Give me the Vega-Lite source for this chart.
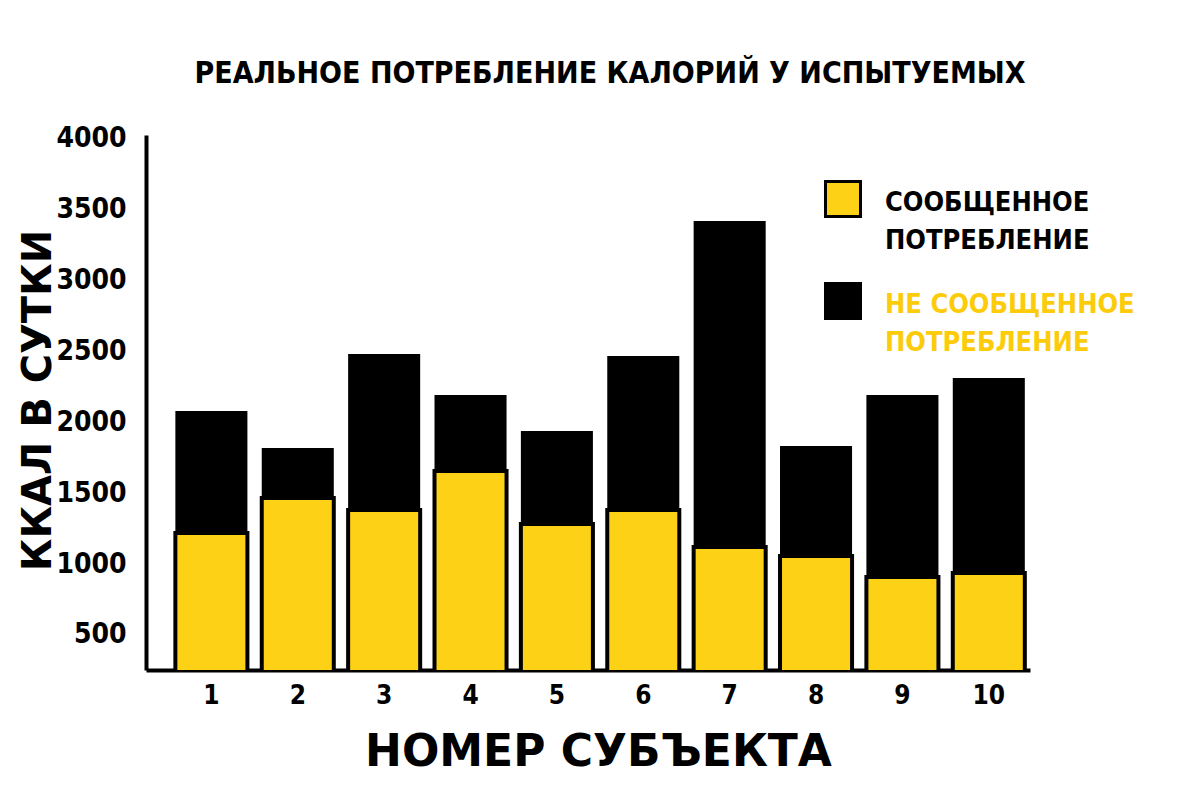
{
  "$schema": "https://vega.github.io/schema/vega-lite/v6.json",
  "width": 884,
  "height": 535,
  "autosize": "none",
  "padding": {"left": 146, "top": 135, "right": 170, "bottom": 130},
  "background": "white",
  "title": {
    "text": "РЕАЛЬНОЕ ПОТРЕБЛЕНИЕ КАЛОРИЙ У ИСПЫТУЕМЫХ",
    "font": "DejaVu Sans Condensed, Roboto, sans-serif",
    "fontWeight": "bold",
    "fontSize": 30,
    "color": "black",
    "anchor": "middle",
    "frame": "group",
    "dx": 22,
    "offset": 6,
    "baseline": "bottom"
  },
  "data": {
    "values": [
      {"subject": "1", "reported": 1220, "total": 2081},
      {"subject": "2", "reported": 1467, "total": 1820},
      {"subject": "3", "reported": 1382, "total": 2483},
      {"subject": "4", "reported": 1657, "total": 2194},
      {"subject": "5", "reported": 1283, "total": 1940},
      {"subject": "6", "reported": 1382, "total": 2469},
      {"subject": "7", "reported": 1121, "total": 3422},
      {"subject": "8", "reported": 1058, "total": 1834},
      {"subject": "9", "reported": 909, "total": 2194},
      {"subject": "10", "reported": 938, "total": 2314}
    ]
  },
  "encoding": {
    "x": {
      "field": "subject",
      "type": "ordinal",
      "sort": null,
      "scale": {"paddingInner": 0.166, "paddingOuter": 0.2, "align": 0.85},
      "axis": {
        "title": "НОМЕР СУБЪЕКТА",
        "titleFont": "DejaVu Sans",
        "titleFontWeight": "bold",
        "titleFontSize": 44,
        "titleColor": "black",
        "titlePadding": 22,
        "titleX": 452,
        "labelAngle": 0,
        "labelFont": "DejaVu Sans Condensed, Roboto, sans-serif",
        "labelFontWeight": "bold",
        "labelFontSize": 26,
        "labelColor": "black",
        "labelPadding": 12,
        "ticks": false,
        "domainColor": "black",
        "domainWidth": 4
      }
    }
  },
  "layer": [
    {
      "mark": {"type": "bar", "clip": true, "color": "black"},
      "encoding": {
        "y": {
          "field": "total",
          "type": "quantitative",
          "scale": {"domain": [253, 4028], "zero": false, "nice": false},
          "axis": {
            "title": "ККАЛ В СУТКИ",
            "titleFont": "DejaVu Sans",
            "titleFontWeight": "bold",
            "titleFontSize": 40,
            "titleColor": "black",
            "titleX": -108,
            "titleY": 265,
            "titleBaseline": "middle",
            "values": [500, 1000, 1500, 2000, 2500, 3000, 3500, 4000],
            "format": "d",
            "labelFont": "DejaVu Sans Condensed, Roboto, sans-serif",
            "labelFontWeight": "bold",
            "labelFontSize": 28,
            "labelColor": "black",
            "labelPadding": 20,
            "ticks": false,
            "grid": false,
            "domainColor": "black",
            "domainWidth": 4
          }
        },
        "color": {
          "datum": "НЕ СООБЩЕННОЕ|ПОТРЕБЛЕНИЕ",
          "scale": {
            "domain": ["СООБЩЕННОЕ|ПОТРЕБЛЕНИЕ", "НЕ СООБЩЕННОЕ|ПОТРЕБЛЕНИЕ"],
            "range": ["#FCD116", "#000000"]
          },
          "legend": {
            "title": null,
            "orient": "none",
            "legendX": 678,
            "legendY": 45,
            "padding": 0,
            "symbolType": "square",
            "symbolSize": 1225,
            "symbolStrokeColor": "black",
            "symbolStrokeWidth": 3,
            "labelExpr": "split(datum.label, '|')",
            "labelFont": "DejaVu Sans Condensed, Roboto, sans-serif",
            "labelFontWeight": "bold",
            "labelFontSize": 27,
            "labelLimit": 400,
            "labelOffset": 23,
            "rowPadding": 23,
            "encode": {
              "symbols": {"update": {"stroke": {"value": "black"}, "strokeWidth": {"value": 3}}},
              "labels": {
                "update": {
                  "fill": {"signal": "indexof(datum.value, 'НЕ') === 0 ? '#FCCB0A' : 'black'"},
                  "lineHeight": {"value": 38},
                  "dy": {"value": 4}
                }
              }
            }
          }
        }
      }
    },
    {
      "mark": {"type": "bar", "clip": true, "stroke": "black", "strokeWidth": 4},
      "encoding": {
        "y": {"field": "reported", "type": "quantitative"},
        "color": {"datum": "СООБЩЕННОЕ|ПОТРЕБЛЕНИЕ"}
      }
    }
  ],
  "config": {
    "view": {"stroke": null},
    "axis": {"grid": false}
  }
}
